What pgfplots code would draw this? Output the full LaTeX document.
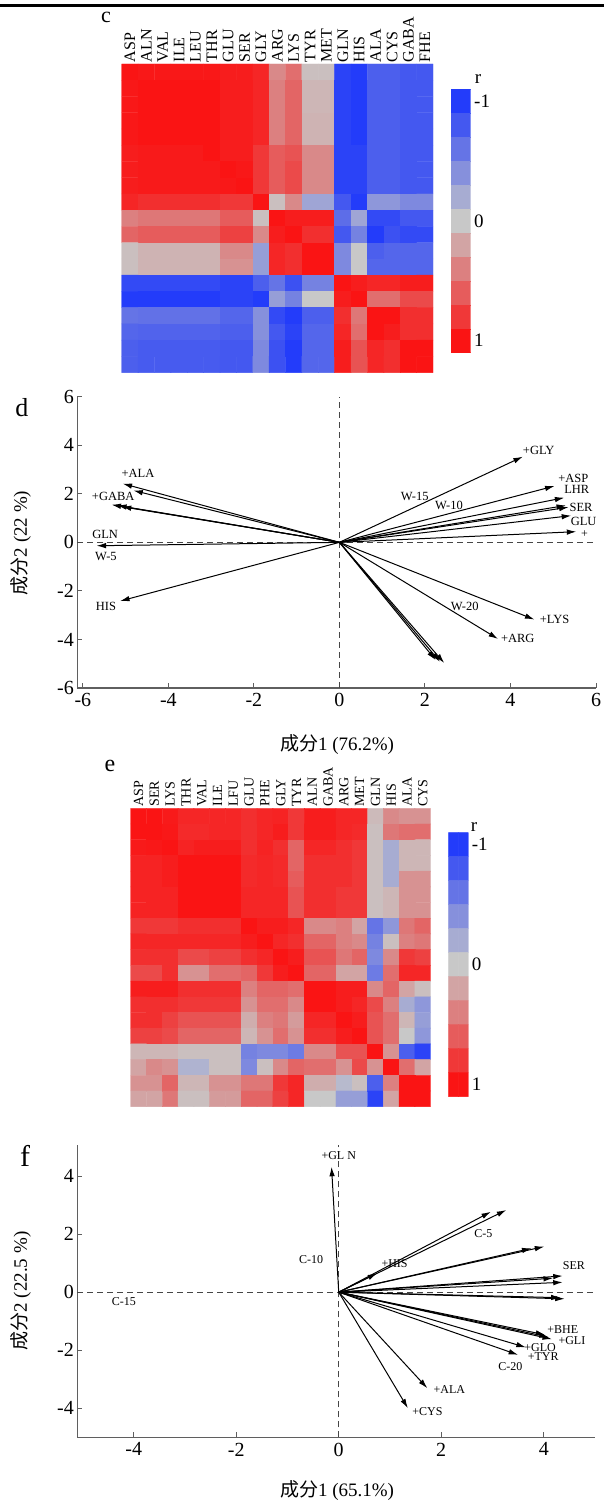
\documentclass[border=0pt]{standalone}
\usepackage{fontspec}
\setmainfont{Liberation Serif}
\newfontfamily\cjk{Noto Sans CJK SC}
\usepackage{pgfplots}
\usepackage{pgfplotstable}
\pgfplotsset{compat=1.18}
\usetikzlibrary{arrows.meta}
\newcommand\fs[1]{\fontsize{#1}{#1}\selectfont}
\definecolor{axgray}{RGB}{95,95,95}
\definecolor{dashgray}{RGB}{70,70,70}
\pgfplotsset{
  colormap={corr}{rgb255(0cm)=(35,60,250); rgb255(1cm)=(200,200,200); rgb255(2cm)=(250,20,20)},
  heat/.style={scale only axis, anchor=south west,
    xmin=-0.5, xmax=18.5, ymin=-0.5, ymax=18.5, y dir=reverse,
    axis line style={draw=none}, tick style={draw=none}, major tick length=0pt,
    ytick=\empty, xtick={0,...,18}, xticklabel pos=right,
    colormap name=corr, point meta min=-1, point meta max=1},
  cbar/.style={scale only axis, anchor=south west, width=20pt, height=263.5pt,
    xmin=-0.5, xmax=1.5, ymin=-0.5, ymax=10.5, y dir=reverse,
    axis line style={draw=none}, tick style={draw=none}, major tick length=0pt,
    xtick=\empty, ytick={0,5,10}, yticklabels={-1,0,1}, yticklabel pos=right,
    yticklabel style={font=\fs{19}},
    colormap name=corr, point meta min=-1, point meta max=1},
  biplot/.style={scale only axis, anchor=south west,
    axis x line=bottom, axis y line=left,
    axis line style={-, draw=axgray, line width=1.3pt},
    tick align=inside, major tick length=5pt,
    tick style={draw=axgray, line width=1pt},
    ticklabel style={font=\fs{20}\rmfamily},
    /pgf/number format/assume math mode=true, clip=false},
  arr/.style={-{Latex[length=9.5pt,width=5.5pt]}, line width=1pt, black},
  zline/.style={dashgray, line width=1pt, dash pattern=on 6pt off 4pt},
}

% correlation matrices, row by row (19 values per row)
\pgfplotstableread[row sep=\\]{
c\\
1\\ 0.98\\ 0.98\\ 0.98\\ 0.98\\ 0.98\\ 0.95\\ 0.95\\ 0.9\\ 0.35\\ 0.5\\ 0.05\\ 0.05\\ -0.95\\ -1\\ -0.75\\ -0.75\\ -0.8\\ -0.8\\
0.98\\ 1\\ 1\\ 1\\ 1\\ 1\\ 0.95\\ 0.95\\ 0.9\\ 0.4\\ 0.55\\ 0.1\\ 0.1\\ -0.95\\ -1\\ -0.75\\ -0.75\\ -0.8\\ -0.8\\
0.98\\ 1\\ 1\\ 1\\ 1\\ 1\\ 0.95\\ 0.95\\ 0.9\\ 0.4\\ 0.55\\ 0.1\\ 0.1\\ -0.95\\ -1\\ -0.75\\ -0.75\\ -0.8\\ -0.8\\
0.98\\ 1\\ 1\\ 1\\ 1\\ 1\\ 0.95\\ 0.95\\ 0.9\\ 0.4\\ 0.55\\ 0.12\\ 0.12\\ -0.95\\ -1\\ -0.75\\ -0.75\\ -0.8\\ -0.8\\
0.98\\ 1\\ 1\\ 1\\ 1\\ 1\\ 0.95\\ 0.95\\ 0.9\\ 0.4\\ 0.55\\ 0.12\\ 0.12\\ -0.95\\ -1\\ -0.75\\ -0.75\\ -0.8\\ -0.8\\
0.95\\ 0.97\\ 0.97\\ 0.97\\ 0.97\\ 1\\ 0.95\\ 0.95\\ 0.8\\ 0.6\\ 0.65\\ 0.35\\ 0.35\\ -0.95\\ -0.95\\ -0.75\\ -0.75\\ -0.8\\ -0.8\\
0.95\\ 0.97\\ 0.97\\ 0.97\\ 0.97\\ 0.97\\ 1\\ 0.98\\ 0.8\\ 0.6\\ 0.7\\ 0.35\\ 0.35\\ -0.95\\ -0.95\\ -0.75\\ -0.75\\ -0.8\\ -0.8\\
0.95\\ 0.97\\ 0.97\\ 0.97\\ 0.97\\ 0.97\\ 0.98\\ 1\\ 0.8\\ 0.6\\ 0.7\\ 0.35\\ 0.35\\ -0.95\\ -0.95\\ -0.75\\ -0.75\\ -0.8\\ -0.8\\
0.9\\ 0.85\\ 0.85\\ 0.85\\ 0.85\\ 0.85\\ 0.8\\ 0.8\\ 1\\ 0.05\\ 0.35\\ -0.25\\ -0.25\\ -0.8\\ -1\\ -0.35\\ -0.35\\ -0.45\\ -0.45\\
0.4\\ 0.45\\ 0.45\\ 0.45\\ 0.45\\ 0.45\\ 0.6\\ 0.6\\ 0.05\\ 1\\ 0.95\\ 0.95\\ 0.95\\ -0.65\\ -0.25\\ -0.9\\ -0.9\\ -0.8\\ -0.8\\
0.55\\ 0.6\\ 0.6\\ 0.6\\ 0.6\\ 0.6\\ 0.75\\ 0.75\\ 0.35\\ 0.95\\ 1\\ 0.85\\ 0.85\\ -0.8\\ -0.5\\ -1\\ -0.85\\ -0.9\\ -0.9\\
0.05\\ 0.12\\ 0.12\\ 0.12\\ 0.12\\ 0.12\\ 0.35\\ 0.35\\ -0.3\\ 0.9\\ 0.85\\ 1\\ 1\\ -0.45\\ 0\\ -0.75\\ -0.7\\ -0.7\\ -0.7\\
0.05\\ 0.12\\ 0.12\\ 0.12\\ 0.12\\ 0.12\\ 0.3\\ 0.3\\ -0.3\\ 0.9\\ 0.85\\ 1\\ 1\\ -0.45\\ 0\\ -0.7\\ -0.7\\ -0.7\\ -0.7\\
-0.9\\ -0.9\\ -0.9\\ -0.9\\ -0.9\\ -0.9\\ -0.95\\ -0.95\\ -0.75\\ -0.6\\ -0.85\\ -0.5\\ -0.5\\ 1\\ 0.95\\ 0.9\\ 0.9\\ 0.95\\ 0.95\\
-1\\ -1\\ -1\\ -1\\ -1\\ -1\\ -0.95\\ -0.95\\ -1\\ -0.3\\ -0.5\\ 0\\ 0\\ 0.95\\ 1\\ 0.5\\ 0.5\\ 0.7\\ 0.7\\
-0.6\\ -0.62\\ -0.62\\ -0.62\\ -0.62\\ -0.62\\ -0.7\\ -0.7\\ -0.4\\ -0.9\\ -1\\ -0.75\\ -0.75\\ 0.85\\ 0.45\\ 1\\ 1\\ 0.85\\ 0.85\\
-0.7\\ -0.72\\ -0.72\\ -0.72\\ -0.72\\ -0.72\\ -0.75\\ -0.75\\ -0.4\\ -0.8\\ -0.95\\ -0.7\\ -0.7\\ 0.9\\ 0.5\\ 1\\ 0.95\\ 0.85\\ 0.85\\
-0.75\\ -0.78\\ -0.78\\ -0.78\\ -0.78\\ -0.78\\ -0.8\\ -0.8\\ -0.45\\ -0.85\\ -1\\ -0.7\\ -0.7\\ 0.95\\ 0.65\\ 0.9\\ 0.85\\ 1\\ 1\\
-0.75\\ -0.78\\ -0.78\\ -0.78\\ -0.78\\ -0.78\\ -0.8\\ -0.8\\ -0.45\\ -0.85\\ -1\\ -0.7\\ -0.7\\ 0.95\\ 0.65\\ 0.9\\ 0.85\\ 1\\ 1\\
}\corrC

\pgfplotstableread[row sep=\\]{
c\\
1\\ 1\\ 0.97\\ 0.9\\ 0.9\\ 0.9\\ 0.9\\ 0.85\\ 0.9\\ 0.92\\ 0.8\\ 0.95\\ 0.95\\ 0.9\\ 0.9\\ 0.08\\ 0.35\\ 0.3\\ 0.3\\
1\\ 1\\ 0.98\\ 0.88\\ 0.88\\ 0.9\\ 0.9\\ 0.85\\ 0.9\\ 0.95\\ 0.8\\ 0.95\\ 0.95\\ 0.9\\ 0.88\\ 0.05\\ 0.45\\ 0.5\\ 0.5\\
0.97\\ 0.98\\ 1\\ 0.92\\ 0.95\\ 0.95\\ 0.95\\ 0.85\\ 0.92\\ 0.85\\ 0.55\\ 0.9\\ 0.9\\ 0.85\\ 0.8\\ 0.05\\ -0.2\\ 0.1\\ 0.1\\
0.92\\ 0.92\\ 0.95\\ 1\\ 1\\ 1\\ 1\\ 0.88\\ 0.9\\ 0.88\\ 0.55\\ 0.85\\ 0.85\\ 0.85\\ 0.8\\ 0.05\\ -0.2\\ 0.1\\ 0.1\\
0.92\\ 0.92\\ 0.95\\ 1\\ 1\\ 1\\ 1\\ 0.88\\ 0.9\\ 0.88\\ 0.6\\ 0.85\\ 0.85\\ 0.85\\ 0.8\\ 0.05\\ -0.2\\ 0.3\\ 0.3\\
0.92\\ 0.92\\ 0.92\\ 1\\ 1\\ 1\\ 1\\ 0.9\\ 0.9\\ 0.9\\ 0.65\\ 0.85\\ 0.85\\ 0.8\\ 0.8\\ 0.05\\ 0.1\\ 0.3\\ 0.3\\
0.92\\ 0.92\\ 0.92\\ 1\\ 1\\ 1\\ 1\\ 0.9\\ 0.9\\ 0.9\\ 0.65\\ 0.85\\ 0.85\\ 0.8\\ 0.8\\ 0.05\\ 0.1\\ 0.3\\ 0.3\\
0.8\\ 0.8\\ 0.8\\ 0.85\\ 0.85\\ 0.85\\ 0.85\\ 1\\ 0.95\\ 0.95\\ 0.9\\ 0.35\\ 0.35\\ 0.4\\ 0.2\\ -0.6\\ -0.35\\ 0.45\\ 0.55\\
0.9\\ 0.9\\ 0.9\\ 0.9\\ 0.9\\ 0.9\\ 0.9\\ 0.95\\ 1\\ 0.9\\ 0.85\\ 0.55\\ 0.55\\ 0.4\\ 0.35\\ -0.5\\ 0.05\\ 0.4\\ 0.45\\
0.85\\ 0.85\\ 0.85\\ 0.7\\ 0.7\\ 0.75\\ 0.75\\ 0.85\\ 0.9\\ 1\\ 0.95\\ 0.65\\ 0.65\\ 0.45\\ 0.55\\ -0.45\\ 0.35\\ 0.8\\ 0.75\\
0.7\\ 0.7\\ 0.85\\ 0.3\\ 0.3\\ 0.5\\ 0.5\\ 0.55\\ 0.8\\ 0.95\\ 1\\ 0.55\\ 0.55\\ 0.2\\ 0.2\\ -0.55\\ 0.5\\ 0.9\\ 0.9\\
0.95\\ 0.95\\ 0.95\\ 0.85\\ 0.85\\ 0.85\\ 0.85\\ 0.4\\ 0.55\\ 0.55\\ 0.5\\ 1\\ 1\\ 0.95\\ 0.95\\ 0.35\\ 0.55\\ 0.2\\ 0.05\\
0.85\\ 0.85\\ 0.85\\ 0.8\\ 0.8\\ 0.8\\ 0.8\\ 0.3\\ 0.5\\ 0.5\\ 0.35\\ 1\\ 1\\ 0.95\\ 0.9\\ 0.7\\ 0.4\\ -0.2\\ -0.35\\
0.85\\ 0.85\\ 0.75\\ 0.65\\ 0.65\\ 0.65\\ 0.65\\ 0.15\\ 0.4\\ 0.45\\ 0.25\\ 0.9\\ 0.9\\ 1\\ 0.95\\ 0.65\\ 0.5\\ 0.1\\ -0.3\\
0.75\\ 0.75\\ 0.7\\ 0.55\\ 0.55\\ 0.55\\ 0.55\\ 0.1\\ 0.3\\ 0.5\\ 0.3\\ 0.85\\ 0.85\\ 0.95\\ 1\\ 0.65\\ 0.5\\ 0\\ -0.35\\
0.1\\ 0.1\\ 0.1\\ 0.05\\ 0.05\\ 0.05\\ 0.05\\ -0.5\\ -0.45\\ -0.45\\ -0.55\\ 0.35\\ 0.35\\ 0.65\\ 0.65\\ 1\\ 0.3\\ -0.75\\ -0.95\\
0.2\\ 0.35\\ 0.3\\ -0.15\\ -0.15\\ 0.05\\ 0.05\\ -0.45\\ 0.05\\ 0.35\\ 0.55\\ 0.5\\ 0.5\\ 0.3\\ 0.7\\ 0.3\\ 1\\ 0.5\\ 0.2\\
0.3\\ 0.3\\ 0.55\\ 0.1\\ 0.1\\ 0.3\\ 0.3\\ 0.45\\ 0.45\\ 0.8\\ 0.9\\ 0.15\\ 0.15\\ -0.1\\ 0.05\\ -0.75\\ 0.4\\ 1\\ 1\\
0.2\\ 0.2\\ 0.45\\ 0.05\\ 0.05\\ 0.25\\ 0.25\\ 0.55\\ 0.55\\ 0.75\\ 0.9\\ 0\\ 0\\ -0.3\\ -0.3\\ -0.95\\ 0.2\\ 1\\ 1\\
}\corrE

\begin{document}
\begin{tikzpicture}
\useasboundingbox (0pt,0pt) rectangle (604pt,1503pt);
\draw[line width=2.5pt] (0pt,1497.5pt) -- (604pt,1497.5pt);

% ---- c ----
\node[font=\fs{22}] at (106pt,1486pt) {c};
\begin{axis}[heat, at={(121.7pt,1130.3pt)}, width=311.3pt, height=308.7pt,
  xticklabels={ASP,ALN,VAL,ILE,LEU,THR,GLU,SER,GLY,ARG,LYS,TYR,MET,GLN,HIS,ALA,CYS,GABA,FHE},
  xticklabel style={rotate=90, anchor=west, inner sep=1.5pt, font=\fs{16}}]
\addplot[matrix plot*, mesh/cols=19, point meta=\thisrow{c}]
  table[x index=0, y index=0,
    x expr={\coordindex-19*floor((\coordindex+0.5)/19)},
    y expr={floor((\coordindex+0.5)/19)}] {\corrC};
\end{axis}
\begin{axis}[cbar, at={(450.7pt,1150.3pt)}]
\addplot[matrix plot*, mesh/cols=2, point meta=explicit] coordinates {
(0,0)[-1] (1,0)[-1] (0,1)[-0.8] (1,1)[-0.8] (0,2)[-0.6] (1,2)[-0.6]
(0,3)[-0.4] (1,3)[-0.4] (0,4)[-0.2] (1,4)[-0.2] (0,5)[0] (1,5)[0]
(0,6)[0.2] (1,6)[0.2] (0,7)[0.4] (1,7)[0.4] (0,8)[0.6] (1,8)[0.6]
(0,9)[0.8] (1,9)[0.8] (0,10)[1] (1,10)[1]};
\end{axis}
\node[font=\fs{19}] at (478pt,1424pt) {r};

% ---- d ----
\node[font=\fs{26}] at (22pt,1095pt) {d};
\begin{axis}[biplot, at={(77.3pt,815pt)}, width=518.7pt, height=292pt,
  xmin=-6.13, xmax=6, ymin=-6, ymax=6.03,
  xtick={-6,-4,-2,0,2,4,6}, ytick={-6,-4,-2,0,2,4,6},
  xticklabel style={yshift=-2pt}]
\addplot[zline] coordinates {(-6.13,0) (6,0)};
\addplot[zline] coordinates {(0,-6) (0,6)};
\addplot[arr, quiver={u=\thisrow{u}, v=\thisrow{v}}] table {
x y u v
0 0 -5.07 2.42
0 0 -4.82 2.14
0 0 -5.33 1.55
0 0 -5.20 1.52
0 0 -5.09 1.47
0 0 -5.68 -0.14
0 0 -5.13 -2.42
0 0 4.29 3.53
0 0 5.03 2.32
0 0 5.26 1.84
0 0 5.30 1.52
0 0 5.36 1.45
0 0 5.42 1.10
0 0 5.54 0.44
0 0 4.56 -3.18
0 0 3.71 -3.98
0 0 2.25 -4.85
0 0 2.35 -4.92
0 0 2.45 -4.97
};
\begin{scope}[every node/.style={font=\fs{12.5}, inner sep=0pt}]
\node at (axis cs:4.66,3.80) {+GLY};
\node at (axis cs:5.47,2.63) {+ASP};
\node at (axis cs:5.55,2.17) {LHR};
\node at (axis cs:5.65,1.45) {SER};
\node at (axis cs:5.71,0.87) {GLU};
\node[font=\fs{12}] at (axis cs:5.73,0.36) {+};
\node at (axis cs:1.76,1.91) {W-15};
\node at (axis cs:2.56,1.52) {W-10};
\node at (axis cs:2.93,-2.66) {W-20};
\node at (axis cs:5.03,-3.18) {+LYS};
\node at (axis cs:4.17,-3.94) {+ARG};
\node at (axis cs:-4.71,2.83) {+ALA};
\node at (axis cs:-5.29,1.89) {+GABA};
\node at (axis cs:-5.48,0.34) {GLN};
\node at (axis cs:-5.46,-0.58) {W-5};
\node at (axis cs:-5.46,-2.63) {HIS};
\end{scope}
\end{axis}
\node[font=\fs{19}] at (337pt,758pt) {{\cjk 成分}1 (76.2\%)};
\node[font=\fs{19}, rotate=90] at (21pt,960pt) {{\cjk 成分}2 (22 \%)};

% ---- e ----
\node[font=\fs{24}] at (110pt,737pt) {e};
\begin{axis}[heat, at={(130.7pt,396.3pt)}, width=300pt, height=298.4pt,
  xticklabels={ASP,SER,LYS,THR,VAL,ILE,LFU,GLU,PHE,GLY,TYR,ALN,GABA,ARG,MET,GLN,HIS,ALA,CYS},
  xticklabel style={rotate=90, anchor=west, inner sep=1.5pt, font=\fs{14}}]
\addplot[matrix plot*, mesh/cols=19, point meta=\thisrow{c}]
  table[x index=0, y index=0,
    x expr={\coordindex-19*floor((\coordindex+0.5)/19)},
    y expr={floor((\coordindex+0.5)/19)}] {\corrE};
\end{axis}
\begin{axis}[cbar, at={(448.3pt,406.3pt)}, height=264pt]
\addplot[matrix plot*, mesh/cols=2, point meta=explicit] coordinates {
(0,0)[-1] (1,0)[-1] (0,1)[-0.8] (1,1)[-0.8] (0,2)[-0.6] (1,2)[-0.6]
(0,3)[-0.4] (1,3)[-0.4] (0,4)[-0.2] (1,4)[-0.2] (0,5)[0] (1,5)[0]
(0,6)[0.2] (1,6)[0.2] (0,7)[0.4] (1,7)[0.4] (0,8)[0.6] (1,8)[0.6]
(0,9)[0.8] (1,9)[0.8] (0,10)[1] (1,10)[1]};
\end{axis}
\node[font=\fs{19}] at (474pt,676pt) {r};

% ---- f ----
\node[font=\fs{30}] at (25pt,347pt) {f};
\begin{axis}[biplot, at={(77.3pt,65.7pt)}, width=517.7pt, height=292.3pt,
  xmin=-5.1, xmax=5, ymin=-5, ymax=5.07,
  xtick={-4,-2,0,2,4}, ytick={-4,-2,0,2,4},
  xticklabel style={yshift=-2pt}]
\addplot[zline] coordinates {(-5.1,0) (5,0)};
\addplot[zline] coordinates {(0,-5) (0,5.07)};
\addplot[arr, quiver={u=\thisrow{u}, v=\thisrow{v}}] table {
x y u v
0 0 -0.14 4.32
0 0 2.97 2.77
0 0 3.27 2.83
0 0 0.75 0.65
0 0 3.76 1.51
0 0 4.01 1.57
0 0 4.18 0.48
0 0 4.37 0.56
0 0 4.37 0.34
0 0 4.33 -0.19
0 0 4.41 -0.23
0 0 4.03 -1.47
0 0 4.10 -1.55
0 0 4.16 -1.62
0 0 3.65 -1.90
0 0 3.50 -2.16
0 0 1.73 -3.31
0 0 1.35 -4.00
};
\begin{scope}[every node/.style={font=\fs{12}, inner sep=0pt}]
\node at (axis cs:0.0,4.69) {+GL N};
\node at (axis cs:-0.54,1.11) {C-10};
\node at (axis cs:-4.19,-0.33) {C-15};
\node at (axis cs:1.09,0.97) {+HIS};
\node at (axis cs:2.82,2.03) {C-5};
\node at (axis cs:4.59,0.90) {SER};
\node at (axis cs:4.37,-1.30) {+BHE};
\node at (axis cs:4.55,-1.66) {+GLI};
\node at (axis cs:3.93,-1.90) {+GLO};
\node at (axis cs:3.99,-2.22) {+TYR};
\node at (axis cs:3.35,-2.56) {C-20};
\node at (axis cs:2.16,-3.34) {+ALA};
\node at (axis cs:1.73,-4.11) {+CYS};
\end{scope}
\end{axis}
\node[font=\fs{19}] at (337pt,12pt) {{\cjk 成分}1 (65.1\%)};
\node[font=\fs{19}, rotate=90] at (21pt,212pt) {{\cjk 成分}2 (22.5 \%)};
\end{tikzpicture}
\end{document}
